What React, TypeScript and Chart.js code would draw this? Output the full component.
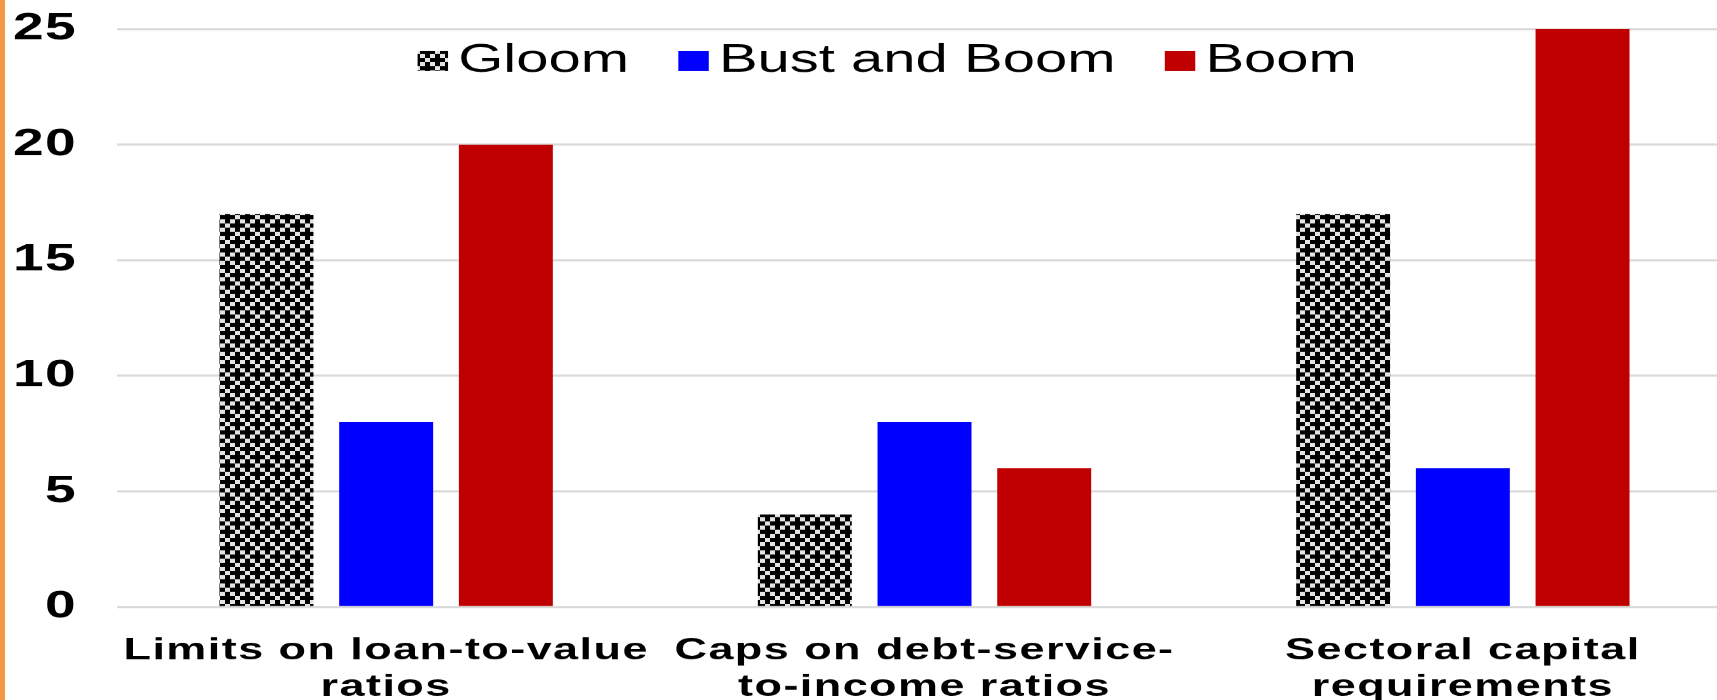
import React, { useEffect, useRef } from 'react';
import { Chart, registerables } from 'chart.js';

Chart.register(...registerables);

// ---- data ----
const categories: string[][] = [
  ['Limits on loan-to-value', 'ratios'],
  ['Caps on debt-service-', 'to-income ratios'],
  ['Sectoral capital', 'requirements'],
];
const seriesNames = ['Gloom', 'Bust and Boom', 'Boom'];
const gloomValues = [17, 4, 17];
const bustAndBoomValues = [8, 8, 6];
const boomValues = [20, 6, 25];
const yTickValues = [0, 5, 10, 15, 20, 25];

// ---- layout constants ----
const S = 1.45; // horizontal stretch of the reference
const CSS_W = 1740;
const H = 700;
const LW = Math.round(CSS_W / S); // logical width

function makePattern(): CanvasPattern | string {
  const cw = 5, ch = 6, n = 4;
  const tile = document.createElement('canvas');
  tile.width = cw * n;
  tile.height = ch * n;
  const t = tile.getContext('2d');
  if (!t) return '#555';
  for (let i = 0; i < n; i++) {
    for (let j = 0; j < n; j++) {
      let black = (i + j) % 2 === 0;
      if ((i === 1 && j === 0) || (i === 3 && j === 2)) black = true;
      t.fillStyle = black ? '#000000' : '#e4e4e4';
      t.fillRect(i * cw, j * ch, cw, ch);
    }
  }
  const c2 = document.createElement('canvas').getContext('2d');
  const p = c2 ? c2.createPattern(tile, 'repeat') : null;
  if (!p) return '#555';
  try {
    p.setTransform(new DOMMatrix().scale(1 / S, 1 / S));
  } catch (e) {}
  return p;
}

const legendPlugin = {
  id: 'customLegend',
  beforeDraw(chart: any) {
    try { (chart.ctx as any).letterSpacing = '1px'; } catch (e) {}
  },
  afterDraw(chart: any) {
    const ctx = chart.ctx as CanvasRenderingContext2D;
    ctx.save();
    try { (ctx as any).letterSpacing = '0px'; } catch (e) {}
    ctx.font = '40px "Liberation Sans", Arial, sans-serif';
    ctx.textBaseline = 'alphabetic';
    ctx.textAlign = 'left';
    let x = 288;
    const boxW = 21, boxTop = 51, boxH = 20, gap = 7, spacing = 34, baseline = 72;
    chart.data.datasets.forEach((ds: any) => {
      ctx.fillStyle = ds.backgroundColor;
      ctx.fillRect(x, boxTop, boxW, boxH);
      x += boxW + gap;
      ctx.fillStyle = '#000000';
      ctx.fillText(ds.label, x, baseline);
      x += ctx.measureText(ds.label).width + spacing;
    });
    ctx.restore();
  },
};

export default function App() {
  const ref = useRef<HTMLCanvasElement | null>(null);

  useEffect(() => {
    document.body.style.margin = '0';
    const canvas = ref.current;
    if (!canvas) return;
    const pattern = makePattern();
    const chart = new Chart(canvas, {
      type: 'bar',
      data: {
        labels: categories,
        datasets: [
          { label: seriesNames[0], data: gloomValues, backgroundColor: pattern as any, borderWidth: 0 },
          { label: seriesNames[1], data: bustAndBoomValues, backgroundColor: '#0000FF', borderWidth: 0 },
          { label: seriesNames[2], data: boomValues, backgroundColor: '#C00000', borderWidth: 0 },
        ],
      },
      options: {
        animation: false,
        responsive: false,
        maintainAspectRatio: false,
        devicePixelRatio: S,
        layout: { padding: { top: 29, right: LW - 1194.5, left: 0, bottom: 0 } },
        datasets: {
          bar: { categoryPercentage: 0.667, barPercentage: 0.785 },
        },
        plugins: {
          legend: { display: false },
          tooltip: { enabled: false },
          title: { display: false },
        },
        scales: {
          x: {
            grid: { display: false, drawTicks: false },
            border: { display: false },
            ticks: {
              color: '#000000',
              padding: 26,
              maxRotation: 0,
              autoSkip: false,
              font: { family: '"Liberation Sans", Arial, sans-serif', size: 31, weight: 'bold', lineHeight: 36 / 31 },
            },
            afterFit: (scale: any) => {
              scale.height = H - 607;
              scale.paddingLeft = 0;
              scale.paddingRight = 0;
            },
          },
          y: {
            min: 0,
            max: 25,
            grid: { color: '#d9d9d9', lineWidth: 2, drawTicks: false },
            border: { display: false },
            ticks: {
              color: '#000000',
              padding: 27.5,
              font: { family: '"Liberation Sans", Arial, sans-serif', size: 38, weight: 'bold' },
            },
            afterBuildTicks: (scale: any) => { scale.ticks = yTickValues.map((v) => ({ value: v })); },
            afterFit: (scale: any) => {
              scale.width = 117 / S;
              scale.paddingTop = 0;
              scale.paddingBottom = 0;
            },
          },
        },
      },
      plugins: [legendPlugin],
    });
    canvas.style.width = CSS_W + 'px';
    canvas.style.height = H + 'px';
    return () => { chart.destroy(); };
  }, []);

  return (
    <div style={{ position: 'relative', width: 1717, height: H, overflow: 'hidden', background: '#ffffff' }}>
      <canvas ref={ref} width={LW} height={H} style={{ display: 'block', width: CSS_W, height: H }} />
      <div style={{ position: 'absolute', left: 0, top: 0, width: 5, height: H, background: '#F79646' }} />
    </div>
  );
}
